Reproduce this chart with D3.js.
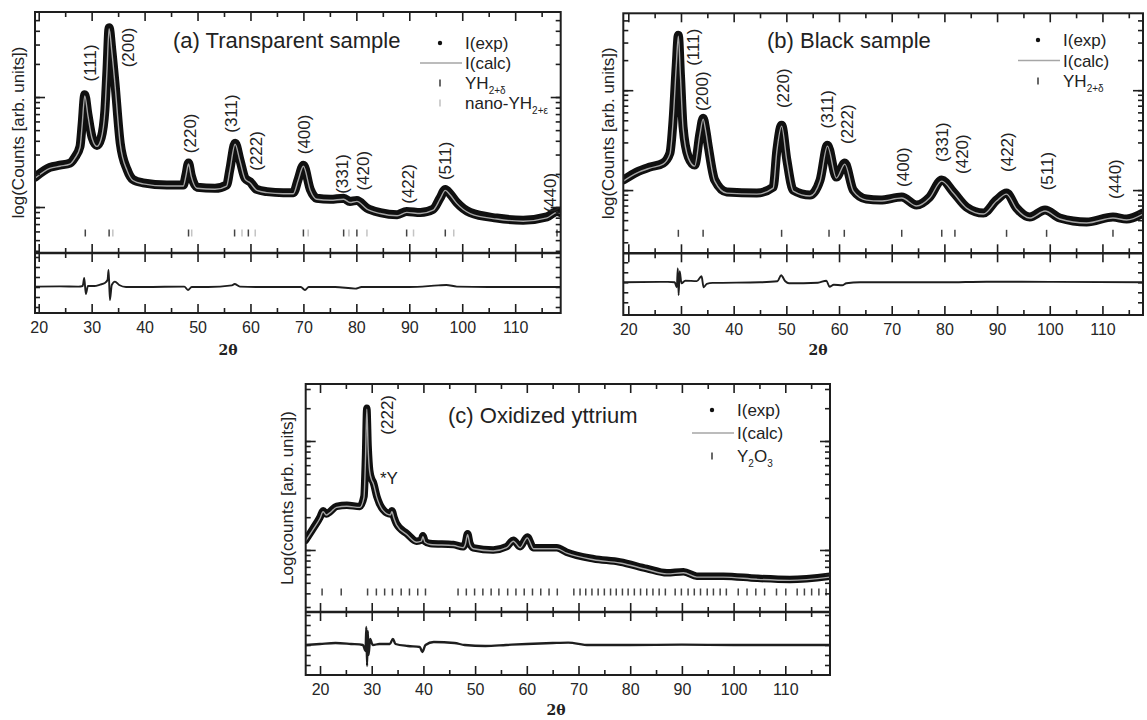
<!DOCTYPE html>
<html><head><meta charset="utf-8">
<script src="https://cdn.jsdelivr.net/npm/d3@7"></script>
<style>
html,body{margin:0;padding:0;background:#fff;}
svg{display:block;font-family:"Liberation Sans",Arial,Helvetica,sans-serif;}
</style></head><body>
<svg id="chart" width="1147" height="720"></svg>
<script>
// ---------- axis ticks ----------
const xMajorTicks = [20, 30, 40, 50, 60, 70, 80, 90, 100, 110];
const xMinorTicks = [25, 35, 45, 55, 65, 75, 85, 95, 105, 115];
const diffTicks = [-1, -0.5, 0, 0.5, 1, 1.5];

// ---------- (a) transparent sample: [2θ, log10 counts] ----------
const xDomainA = [19.3, 118.6];
const logDomainA = [2.582, 4.773];
const diffDomainA = [-1.3, 1.7];
const expA = [
  [19.3,3.27],[22.1,3.36],[24.0,3.38],[25.9,3.40],[26.8,3.45],[27.8,3.55],[28.2,3.75],[28.7,4.02],
  [29.3,3.84],[30.1,3.63],[31.0,3.56],[31.8,3.63],[32.5,3.88],[32.9,4.25],[33.3,4.63],[33.8,4.43],
  [34.4,4.13],[35.4,3.58],[36.7,3.34],[37.8,3.25],[39.7,3.22],[44.2,3.20],[47.3,3.20],[47.8,3.29],
  [48.3,3.40],[48.8,3.29],[49.9,3.18],[53.3,3.17],[55.5,3.20],[56.1,3.34],[57.1,3.58],[58.0,3.43],
  [59.0,3.26],[59.9,3.23],[61.2,3.16],[63.1,3.14],[66.2,3.13],[68.1,3.13],[69.0,3.25],[70.0,3.38],
  [71.3,3.16],[72.5,3.08],[75.1,3.07],[77.6,3.08],[78.8,3.05],[80.1,3.06],[82.0,2.99],[84.5,2.95],
  [87.7,2.93],[89.5,2.96],[92.1,2.95],[94.5,2.98],[95.8,3.08],[96.8,3.16],[97.7,3.12],[99.0,3.04],
  [101.5,2.95],[106.5,2.90],[111.5,2.88],[116.0,2.91],[117.9,2.96],[118.6,2.95]
];
const diffA = [
  [19.3,0.02],[24,0.03],[27.5,0.02],[28.3,0.05],[28.6,0.45],[28.9,-0.35],[29.3,0.05],[30.5,0.05],
  [31.6,0.12],[32.5,0.2],[33.0,0.35],[33.2,0.85],[33.45,-0.65],[33.8,0.1],[34.4,0.27],[35.2,0.1],
  [36.5,0.0],[40,0.0],[47.5,0.02],[48.2,-0.15],[48.9,0.0],[52,0.0],[56.5,0.08],[57.0,0.15],[58,0.02],
  [62,0.0],[69.5,0.0],[70.3,-0.15],[71,0.0],[76,0.0],[79.8,-0.08],[81,0.0],[90,0.0],[95.5,0.08],
  [97,0.1],[99,0.02],[105,0.0],[118.6,0.0]
];
const braggA = [28.8, 33.3, 48.3, 57.0, 59.6, 70.0, 77.6, 80.1, 89.5, 96.8, 117.9];
const braggNanoA = [34.0, 48.9, 58.4, 60.9, 70.9, 78.6, 82.0, 90.8, 98.4];
const hklA = [
  ["(111)",29.7,4.31],["(200)",36.9,4.45],["(220)",48.6,3.67],["(311)",56.5,3.85],["(222)",61.2,3.51],
  ["(400)",70.3,3.66],["(331)",77.3,3.30],["(420)",81.3,3.33],["(422)",89.8,3.21],["(511)",96.8,3.42],
  ["(440)",116.6,3.13]
];

// ---------- (b) black sample ----------
const xDomainB = [19.05, 117.7];
const logDomainB = [2.367, 4.77];
const diffDomainB = [-1.635, 1.45];
const expB = [
  [19.05,3.10],[21.6,3.18],[24.1,3.23],[26.6,3.27],[27.9,3.37],[28.5,3.70],[29.1,4.25],[29.5,4.55],
  [29.9,4.15],[30.4,3.63],[31.4,3.33],[32.6,3.25],[33.6,3.57],[34.2,3.72],[34.7,3.60],[35.2,3.43],
  [36.4,3.10],[38.7,2.98],[44.4,2.97],[47.5,3.03],[48.2,3.40],[49.1,3.65],[50.1,3.30],[51.3,3.00],
  [54.5,2.95],[56.4,3.10],[57.8,3.45],[59.5,3.13],[61.1,3.27],[62.7,3.00],[65.2,2.91],[67.8,2.90],
  [71.9,2.93],[74.7,2.85],[77.2,2.93],[79.5,3.10],[81.7,2.98],[84.2,2.83],[87.4,2.77],[89.9,2.90],
  [91.8,2.97],[93.7,2.82],[96.2,2.73],[99.1,2.80],[101.9,2.72],[107.0,2.68],[112.0,2.73],[114.6,2.71],
  [117.7,2.77]
];
const diffB = [
  [19.05,0],[27.5,0.02],[28.8,0.0],[29.2,-0.25],[29.4,0.7],[29.55,-0.65],[29.75,0.55],[30.1,-0.05],
  [30.8,0.08],[33.0,0.06],[33.9,0.3],[34.3,-0.25],[34.9,-0.08],[36,-0.03],[45,0.0],[48.3,0.05],
  [49.0,0.35],[49.8,0.05],[50.5,-0.05],[56,-0.02],[57.6,0.08],[58.2,-0.22],[59,-0.12],[60.6,-0.15],
  [61.4,-0.05],[64,0.0],[80,0.0],[88,0.03],[100,0.02],[117.7,0.0]
];
const braggB = [29.5, 34.2, 49.1, 58.1, 61.0, 71.9, 79.5, 82.0, 91.8, 99.4, 112.0];
const hklB = [
  ["(111)",32.3,4.43],["(200)",34.0,3.99],["(220)",49.4,4.02],["(311)",57.9,3.81],["(222)",61.7,3.66],
  ["(400)",72.2,3.23],["(331)",79.6,3.48],["(420)",83.5,3.36],["(422)",91.9,3.38],["(511)",99.5,3.19],
  ["(440)",112.4,3.11]
];

// ---------- (c) oxidized yttrium ----------
const xDomainC = [17.23, 118.65];
const logDomainC = [2.431, 4.523];
const diffDomainC = [-1.5, 1.65];
const expC = [
  [17.2,3.09],[18.7,3.20],[20.0,3.30],[20.6,3.36],[21.2,3.33],[21.9,3.35],[23.2,3.40],[25.2,3.41],
  [27.7,3.40],[28.5,3.49],[28.8,3.85],[29.05,4.30],[29.3,3.95],[29.6,3.73],[30.0,3.65],[30.3,3.62],
  [31.0,3.49],[32.2,3.37],[33.6,3.33],[33.9,3.36],[34.3,3.30],[34.8,3.24],[36.8,3.15],[38.7,3.08],
  [39.6,3.09],[39.9,3.13],[40.3,3.08],[41.3,3.06],[45.8,3.05],[47.7,3.03],[48.1,3.06],[48.55,3.15],
  [49.0,3.06],[49.65,3.02],[53.5,3.00],[56.1,3.03],[57.4,3.09],[58.7,3.03],[60.1,3.12],[61.3,3.02],
  [65.8,3.02],[67.7,2.98],[72.9,2.92],[78.0,2.89],[83.2,2.83],[87.1,2.79],[90.3,2.80],[92.9,2.76],
  [98.0,2.76],[104.5,2.74],[110.9,2.73],[118.65,2.76]
];
const diffC = [
  [17.2,0.0],[20,0.05],[23,0.1],[26,0.05],[28.3,0.0],[28.8,-0.3],[28.95,0.9],[29.1,-1.05],[29.25,0.7],
  [29.4,-0.5],[29.7,0.3],[30.2,0.0],[31.5,0.05],[33.5,0.05],[34.1,0.3],[34.6,0.05],[37,-0.05],
  [39.3,-0.1],[39.8,-0.35],[40.4,0.0],[42,0.15],[46,0.1],[48,0.0],[52,-0.05],[56,0.0],[60,0.05],
  [65,0.1],[68,0.12],[72,0.0],[80,0.0],[90,0.02],[100,0.0],[110,0.0],[118.65,0.0]
];
const braggC = [
  20.4, 24.1,
  29.2, 30.9, 32.5, 34.0, 35.7, 37.3, 38.9, 40.4,
  46.7, 48.3, 49.9, 51.5, 53.1, 54.6, 56.3, 57.9, 59.5, 61.1, 62.7, 64.3, 65.9,
  69.1, 70.3, 71.4, 72.6, 73.8, 75.0, 76.2, 77.3, 78.5, 79.6, 80.8, 82.0, 83.2, 84.4, 85.6, 86.8,
  88.7, 89.9, 91.2, 92.4, 93.6, 94.9, 96.1, 97.4, 98.6,
  100.9, 102.6, 104.3, 106.0,
  108.3, 110.1,
  112.3, 113.7, 115.1, 116.5, 117.9
];
const hklC = [["(222)",33.0,4.24]];
const notesC = [["*Y",31.6,3.66]];

// ---------- drawing ----------
const svg = d3.select("#chart");
const INK = "#1e1e1e", CALC = "#a6a6a6", LIGHT = "#c4c4c4";

const panels = [
  { id:"a", exp:expA, diff:diffA, xDom:xDomainA, logDom:logDomainA, dDom:diffDomainA,
    bragg:[[braggA, "#444"], [braggNanoA, LIGHT]], hkl:hklA, notes:[],
    box:{x0:35, x1:560.7, top:12, sep:253, bottom:313},
    title:"(a) Transparent sample", titleX:173, titleY:48,
    legX:440, legY:43, legStep:20,
    legend:[["dot","I(exp)"],["line","I(calc)"],["tick","YH",[["2+δ",1]],"#444"],["tick","nano-YH",[["2+ε",1]],LIGHT]],
    ylab:"log(Counts [arb. units])", ylabX:18, thetaX:228, thetaY:355, band:9, diffW:1.9 },
  { id:"b", exp:expB, diff:diffB, xDom:xDomainB, logDom:logDomainB, dDom:diffDomainB,
    bragg:[[braggB, "#444"]], hkl:hklB, notes:[],
    box:{x0:623.3, x1:1143, top:13.3, sep:253.3, bottom:315},
    title:"(b) Black sample", titleX:767, titleY:48,
    legX:1038, legY:40, legStep:20.5,
    legend:[["dot","I(exp)"],["line","I(calc)"],["tick","YH",[["2+δ",1]],"#444"]],
    ylab:"log(Counts [arb. units])", ylabX:608, thetaX:818, thetaY:355, band:9, diffW:1.9 },
  { id:"c", exp:expC, diff:diffC, xDom:xDomainC, logDom:logDomainC, dDom:diffDomainC,
    bragg:[[braggC, "#444"]], hkl:hklC, notes:notesC,
    box:{x0:305.7, x1:830, top:384, sep:612, bottom:675},
    title:"(c) Oxidized yttrium", titleX:448, titleY:423,
    legX:712, legY:410, legStep:23,
    legend:[["dot","I(exp)"],["line","I(calc)"],["tick","Y",[["2",1],["O",0],["3",1]],"#444"]],
    ylab:"Log(counts [arb. units])", ylabX:287, thetaX:556, thetaY:715, band:7.5, diffW:2.3 }
];

function tickAxis(g, axis, size) {
  g.call(axis.tickSize(size).tickFormat(""));
  g.select(".domain").remove();
  g.selectAll(".tick line").attr("stroke", INK).attr("stroke-width", 1.6);
}

panels.forEach(p => {
  const b = p.box;
  const g = svg.append("g").attr("class", "panel-" + p.id);
  const x = d3.scaleLinear().domain(p.xDom).range([b.x0, b.x1]);
  const y = d3.scaleLinear().domain(p.logDom).range([b.sep, b.top]);
  const yLog = d3.scaleLog().domain(p.logDom.map(v => Math.pow(10, v))).range([b.sep, b.top]);
  const yd = d3.scaleLinear().domain(p.dDom).range([b.bottom, b.sep]);

  const clipId = "clip-" + p.id;
  svg.append("clipPath").attr("id", clipId).append("rect")
    .attr("x", b.x0).attr("y", b.top).attr("width", b.x1 - b.x0).attr("height", b.bottom - b.top);

  // Bragg reflection markers
  const braggY = b.sep - 20;
  p.bragg.forEach(([pos, col]) => {
    g.append("g").selectAll("line").data(pos).join("line")
      .attr("x1", d => x(d)).attr("x2", d => x(d))
      .attr("y1", braggY - 3.5).attr("y2", braggY + 3.5)
      .attr("stroke", col).attr("stroke-width", 1.5);
  });

  // observed profile (thick dark band) and calculated profile (grey line)
  const line = d3.line().x(d => x(d[0])).y(d => y(d[1])).curve(d3.curveMonotoneX);
  const plot = g.append("g").attr("clip-path", `url(#${clipId})`);
  plot.append("path").datum(p.exp).attr("d", line)
    .attr("fill", "none").attr("stroke", "#101010").attr("stroke-width", p.band)
    .attr("stroke-linejoin", "round").attr("stroke-linecap", "round");
  plot.append("path").datum(p.exp).attr("d", line)
    .attr("transform", "translate(0,1)")
    .attr("fill", "none").attr("stroke", CALC).attr("stroke-width", 1.4);

  // difference curve
  const dline = d3.line().x(d => x(d[0])).y(d => yd(d[1])).curve(d3.curveMonotoneX);
  plot.append("path").datum(p.diff).attr("d", dline)
    .attr("fill", "none").attr("stroke", INK).attr("stroke-width", p.diffW);

  // frame and separator
  g.append("rect").attr("x", b.x0).attr("y", b.top).attr("width", b.x1 - b.x0).attr("height", b.bottom - b.top)
    .attr("fill", "none").attr("stroke", INK).attr("stroke-width", 2);
  g.append("line").attr("x1", b.x0).attr("x2", b.x1).attr("y1", b.sep).attr("y2", b.sep)
    .attr("stroke", INK).attr("stroke-width", 2.5);

  // x ticks: top, separator (both sides), bottom
  [[d3.axisBottom, b.top], [d3.axisBottom, b.sep], [d3.axisTop, b.sep], [d3.axisTop, b.bottom]].forEach(([ax, yy]) => {
    tickAxis(g.append("g").attr("transform", `translate(0,${yy})`), ax(x).tickValues(xMajorTicks), 9);
    tickAxis(g.append("g").attr("transform", `translate(0,${yy})`), ax(x).tickValues(xMinorTicks), 5);
  });
  const xl = g.append("g").attr("transform", `translate(0,${b.bottom})`)
    .call(d3.axisBottom(x).tickValues(xMajorTicks).tickSize(0).tickPadding(9));
  xl.select(".domain").remove();
  xl.selectAll("text").attr("font-size", 16).attr("fill", "#262626").attr("font-family", "Liberation Sans, Arial, sans-serif");

  // logarithmic intensity ticks, left and right
  const logTicks = yLog.ticks();
  const decades = logTicks.filter(t => Math.abs(Math.log10(t) - Math.round(Math.log10(t))) < 1e-9);
  [[d3.axisRight, b.x0], [d3.axisLeft, b.x1]].forEach(([ax, xx]) => {
    tickAxis(g.append("g").attr("transform", `translate(${xx},0)`), ax(yLog).tickValues(logTicks), 5);
    tickAxis(g.append("g").attr("transform", `translate(${xx},0)`), ax(yLog).tickValues(decades), 10);
    tickAxis(g.append("g").attr("transform", `translate(${xx},0)`), ax(yd).tickValues(diffTicks), 5);
  });

  // reflection indices
  g.append("g").selectAll("text").data(p.hkl).join("text")
    .attr("transform", d => `translate(${x(d[1])},${y(d[2])}) rotate(-90)`)
    .attr("text-anchor", "middle").attr("dominant-baseline", "central")
    .attr("font-size", 17).attr("fill", "#222").text(d => d[0]);
  g.append("g").selectAll("text").data(p.notes).join("text")
    .attr("x", d => x(d[1])).attr("y", d => y(d[2])).attr("dominant-baseline", "central")
    .attr("font-size", 17).attr("fill", "#222").text(d => d[0]);

  // panel title
  g.append("text").attr("x", p.titleX).attr("y", p.titleY).attr("font-size", 22).attr("fill", "#222").text(p.title);

  // legend
  p.legend.forEach((e, i) => {
    const cy = p.legY + i * p.legStep;
    if (e[0] === "dot") g.append("circle").attr("cx", p.legX).attr("cy", cy).attr("r", 2.2).attr("fill", "#111");
    if (e[0] === "line") g.append("line").attr("x1", p.legX - 20).attr("x2", p.legX + 22).attr("y1", cy).attr("y2", cy)
      .attr("stroke", CALC).attr("stroke-width", 1.7);
    if (e[0] === "tick") g.append("line").attr("x1", p.legX).attr("x2", p.legX).attr("y1", cy - 3.5).attr("y2", cy + 3.5)
      .attr("stroke", e[3]).attr("stroke-width", 1.6);
    const t = g.append("text").attr("x", p.legX + 25).attr("y", cy + 6).attr("font-size", 17).attr("fill", "#222");
    t.append("tspan").text(e[1]);
    let sub = false;
    (e[2] || []).forEach(([s, isSub]) => {
      const dy = isSub && !sub ? 5 : (!isSub && sub ? -5 : 0);
      t.append("tspan").attr("dy", dy).attr("font-size", isSub ? 10 : 17).text(s);
      sub = !!isSub;
    });
  });

  // axis titles
  g.append("text").attr("transform", `translate(${p.ylabX},${(b.top + b.sep) / 2}) rotate(-90)`)
    .attr("text-anchor", "middle").attr("dominant-baseline", "central")
    .attr("font-size", 17).attr("fill", "#222").text(p.ylab);
  g.append("text").attr("x", p.thetaX).attr("y", p.thetaY).attr("text-anchor", "middle")
    .attr("font-family", "DejaVu Serif, serif").attr("font-weight", "bold").attr("font-size", 14)
    .attr("fill", "#222").text("2θ");
});
</script></body></html>
